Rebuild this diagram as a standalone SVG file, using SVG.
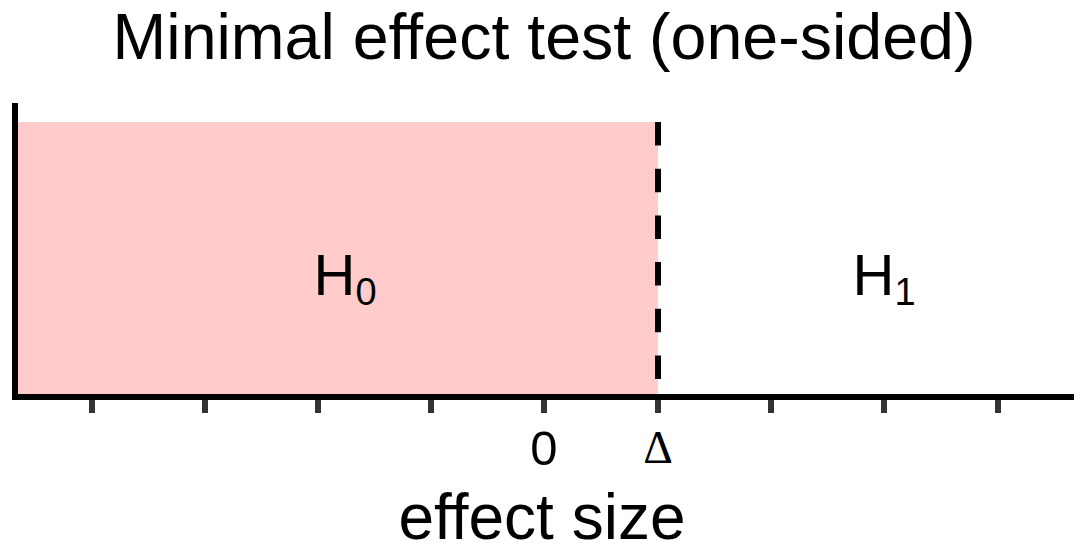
<svg xmlns="http://www.w3.org/2000/svg" width="1091" height="556" viewBox="0 0 1091 556">
<style>
text{font-family:"Liberation Sans",Arial,sans-serif;fill:#000}
.tick{stroke:#333333;stroke-width:6}
.axis{stroke:#000;stroke-width:6;fill:none}
</style>
<rect width="1091" height="556" fill="#fff"/>
<g id="region-h0"><rect x="18" y="122" width="640" height="272" fill="#FFCCCB"/></g>
<g id="connectors">
<line class="axis" x1="15" y1="103" x2="15" y2="400"/>
<line class="axis" x1="12" y1="397" x2="1074" y2="397"/>
<line x1="658" y1="122" x2="658" y2="394" stroke="#000" stroke-width="6" stroke-dasharray="23.5 23.2"/>
<g id="ticks">
<line class="tick" x1="92" y1="400" x2="92" y2="413"/>
<line class="tick" x1="205" y1="400" x2="205" y2="413"/>
<line class="tick" x1="318" y1="400" x2="318" y2="413"/>
<line class="tick" x1="431" y1="400" x2="431" y2="413"/>
<line class="tick" x1="544" y1="400" x2="544" y2="413"/>
<line class="tick" x1="658" y1="400" x2="658" y2="413"/>
<line class="tick" x1="771" y1="400" x2="771" y2="413"/>
<line class="tick" x1="884" y1="400" x2="884" y2="413"/>
<line class="tick" x1="998" y1="400" x2="998" y2="413"/>
</g>
</g>
<g id="title"><text x="544" y="59" font-size="64.5" text-anchor="middle">Minimal effect test (one-sided)</text></g>
<g id="label-h0"><text x="313.5" y="295" font-size="58">H<tspan font-size="38" dy="10">0</tspan></text></g>
<g id="label-h1"><text x="852.5" y="295" font-size="58">H<tspan font-size="38" dy="10">1</tspan></text></g>
<g id="tick-labels">
<text x="544" y="465" font-size="49" text-anchor="middle">0</text>
<text x="658" y="463" font-size="46" text-anchor="middle" style="font-family:'Liberation Serif','Times New Roman',serif">Δ</text>
</g>
<g id="axis-title"><text x="542" y="539" font-size="64" text-anchor="middle">effect size</text></g>
</svg>
